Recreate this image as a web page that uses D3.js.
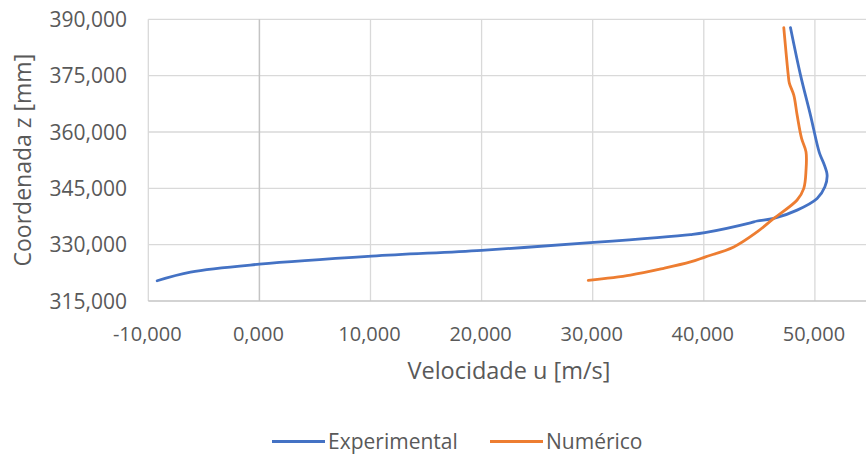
<!DOCTYPE html>
<html>
<head>
<meta charset="utf-8">
<script src="https://cdn.jsdelivr.net/npm/d3@7"></script>
<style>
  body { margin: 0; background: #fff; }
  text { font-family: "Open Sans", "Noto Sans", sans-serif; fill: #595959; }
</style>
</head>
<body>
<div id="chart"></div>
<script>
// velocidade u [m/s] vs coordenada z [mm]
const expU = [-9.2, -6.2, 0.0, 10.1, 20.0, 30.1, 38.8, 40.1, 44.2, 44.8, 46.3, 48.4, 50.2, 50.9, 51.1, 50.8, 50.4, 49.6, 48.7, 47.8];
const expZ = [320.4, 322.7, 324.8, 326.95, 328.5, 330.6, 332.7, 333.2, 335.8, 336.3, 337.0, 339.2, 342.3, 345.4, 348.5, 351.6, 354.5, 364.5, 375.2, 387.8];

const numU = [29.6, 33.4, 36.4, 38.8, 40.1, 42.7, 44.8, 46.3, 48.4, 49.0, 49.2, 49.2, 48.8, 48.4, 48.1, 47.7, 47.6, 47.2];
const numZ = [320.5, 321.9, 323.7, 325.4, 326.7, 329.4, 333.4, 337.0, 341.9, 345.0, 349.8, 354.7, 358.3, 364.5, 369.8, 373.0, 375.2, 387.8];

const xTicks = [-10, 0, 10, 20, 30, 40, 50];
const yTicks = [315, 330, 345, 360, 375, 390];

const seriesNames = ["Experimental", "Numérico"];
const seriesColors = ["#4472C4", "#ED7D31"];

const W = 866, H = 456;
const svg = d3.select("#chart").append("svg")
  .attr("width", W).attr("height", H);

// x max (60) sits past the right edge of the picture
const x = d3.scaleLinear().domain([-10, 60]).range([148.3, 926]);
const y = d3.scaleLinear().domain([315, 390]).range([301, 19.3]);

const fmt = d3.formatLocale({ decimal: ",", thousands: ".", grouping: [3], minus: "-" }).format(",.3f");

// gridlines
svg.append("g")
  .selectAll("line")
  .data(yTicks.filter(d => d !== 315))
  .join("line")
  .attr("x1", x(-10)).attr("x2", W)
  .attr("y1", d => y(d)).attr("y2", d => y(d))
  .attr("stroke", "#d9d9d9").attr("stroke-width", 1.3);

svg.append("g")
  .selectAll("line")
  .data(xTicks.filter(d => d !== 0))
  .join("line")
  .attr("x1", d => x(d)).attr("x2", d => x(d))
  .attr("y1", y(390)).attr("y2", y(315))
  .attr("stroke", "#d9d9d9").attr("stroke-width", 1.3);

// axis lines
svg.append("line")
  .attr("x1", x(0)).attr("x2", x(0))
  .attr("y1", y(390)).attr("y2", y(315))
  .attr("stroke", "#c4c4c4").attr("stroke-width", 1.5);
svg.append("line")
  .attr("x1", x(-10)).attr("x2", W)
  .attr("y1", y(315)).attr("y2", y(315))
  .attr("stroke", "#c4c4c4").attr("stroke-width", 1.5);

// y tick labels
svg.append("g")
  .selectAll("text")
  .data(yTicks)
  .join("text")
  .attr("x", 127)
  .attr("y", d => y(d))
  .attr("dy", "0.36em")
  .attr("text-anchor", "end")
  .style("font-size", "21px")
  .text(d => fmt(d));

// x tick labels
svg.append("g")
  .selectAll("text")
  .data(xTicks)
  .join("text")
  .attr("x", d => x(d) - 1)
  .attr("y", 340.5)
  .attr("text-anchor", "middle")
  .style("font-size", "20px")
  .text(d => fmt(d));

// axis titles
svg.append("text")
  .attr("x", 509)
  .attr("y", 379)
  .attr("text-anchor", "middle")
  .style("font-size", "23.5px")
  .text("Velocidade u [m/s]");

svg.append("text")
  .attr("transform", `translate(31,${(y(390) + y(315)) / 2}) rotate(-90)`)
  .attr("text-anchor", "middle")
  .style("font-size", "23px")
  .text("Coordenada z [mm]");

// series
const line = d3.line()
  .x(d => x(d[0]))
  .y(d => y(d[1]))
  .curve(d3.curveCatmullRom.alpha(0.5));

const series = [
  d3.zip(expU, expZ),
  d3.zip(numU, numZ)
];

svg.append("g")
  .selectAll("path")
  .data(series)
  .join("path")
  .attr("d", line)
  .attr("fill", "none")
  .attr("stroke", (d, i) => seriesColors[i])
  .attr("stroke-width", 2.8)
  .attr("stroke-linecap", "round")
  .attr("stroke-linejoin", "round");

// legend
const legendX = [272, 490];
const lg = svg.append("g")
  .selectAll("g")
  .data(seriesNames)
  .join("g")
  .attr("transform", (d, i) => `translate(${legendX[i]},441.5)`);
lg.append("line")
  .attr("x1", 0).attr("x2", 53)
  .attr("stroke", (d, i) => seriesColors[i])
  .attr("stroke-width", 2.8);
lg.append("text")
  .attr("x", 56)
  .attr("y", 7)
  .style("font-size", "21px")
  .text(d => d);
</script>
</body>
</html>
